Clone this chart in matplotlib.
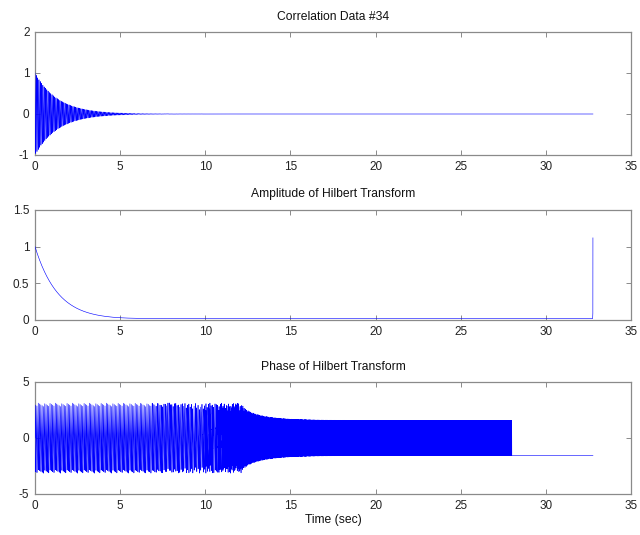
import numpy as np
import matplotlib
matplotlib.use("Agg")
import matplotlib.pyplot as plt

plt.rcParams["font.family"] = ["Liberation Sans", "DejaVu Sans"]

# Record sampling
sample_rate = 250.0          # Hz
n_samples = 8192             # 32.768 s record

# Damped oscillation in the correlation record
peak_value = 1.0
decay_rate = 0.75            # 1/s
osc_freq = 13.0              # Hz

# Quadrature noise floor and late-record phase behaviour
quad_floor = 1.1e-4
phase_lock_time = 28.0       # s, phase holds at -pi/2 after this

# Amplitude baseline and the edge artefact in the last samples
amp_floor = 0.02
edge_tail = [0.04, 0.06, 0.09, 1.12]

x_ticks = [0, 5, 10, 15, 20, 25, 30, 35]
corr_yticks = [-1, 0, 1, 2]
amp_yticks = [0, 0.5, 1, 1.5]
amp_yticklabels = ["0", "0.5", "1", "1.5"]
phase_yticks = [-5, 0, 5]
titles = ["Correlation Data #34",
          "Amplitude of Hilbert Transform",
          "Phase of Hilbert Transform"]
x_label = "Time (sec)"

# Signal, envelope and phase
t = np.arange(n_samples) / sample_rate
envelope = peak_value * np.exp(-decay_rate * t)
carrier = np.exp(2j * np.pi * osc_freq * t)
corr = (envelope * carrier).real

amplitude = np.sqrt(envelope ** 2 + amp_floor ** 2)
amplitude[-len(edge_tail):] = edge_tail

alt_sign = np.where(t < phase_lock_time, (-1.0) ** np.arange(n_samples), -1.0)
phase = np.angle(envelope * carrier + 1j * quad_floor * alt_sign)

fig = plt.figure(figsize=(6.4, 5.35), dpi=100)
left, width = 35 / 640, 596 / 640
rects = [
    (left, 1 - 155 / 535, width, 123 / 535),
    (left, 1 - 320 / 535, width, 110 / 535),
    (left, 1 - 494 / 535, width, 112 / 535),
]
series = [corr, amplitude, phase]
ylims = [(-1, 2), (0, 1.5), (-5, 5)]
yticks = [corr_yticks, amp_yticks, phase_yticks]
yticklabels = [[str(v) for v in corr_yticks], amp_yticklabels,
               [str(v) for v in phase_yticks]]

axis_grey = "#8a8a8a"
for rect, y, ylim, yt, ytl, title in zip(rects, series, ylims, yticks,
                                         yticklabels, titles):
    ax = fig.add_axes(rect)
    ax.plot(t, y, color=(0, 0, 1), lw=0.42, zorder=3)
    ax.set_xlim(0, 35)
    ax.set_ylim(*ylim)
    ax.set_xticks(x_ticks)
    ax.set_xticklabels([str(v) for v in x_ticks])
    ax.set_yticks(yt)
    ax.set_yticklabels(ytl)
    ax.tick_params(direction="in", top=True, right=True, length=3.5,
                   width=0.7, color=axis_grey, labelcolor="#222222",
                   labelsize=8.5, pad=4)
    for s in ax.spines.values():
        s.set_color(axis_grey)
        s.set_linewidth(0.9)
    ax.set_title(title, fontsize=8.7, color="#111111", pad=9)

ax.set_xlabel(x_label, fontsize=8.7, color="#111111", labelpad=2)

fig.savefig("out.png", dpi=100, facecolor="white")
